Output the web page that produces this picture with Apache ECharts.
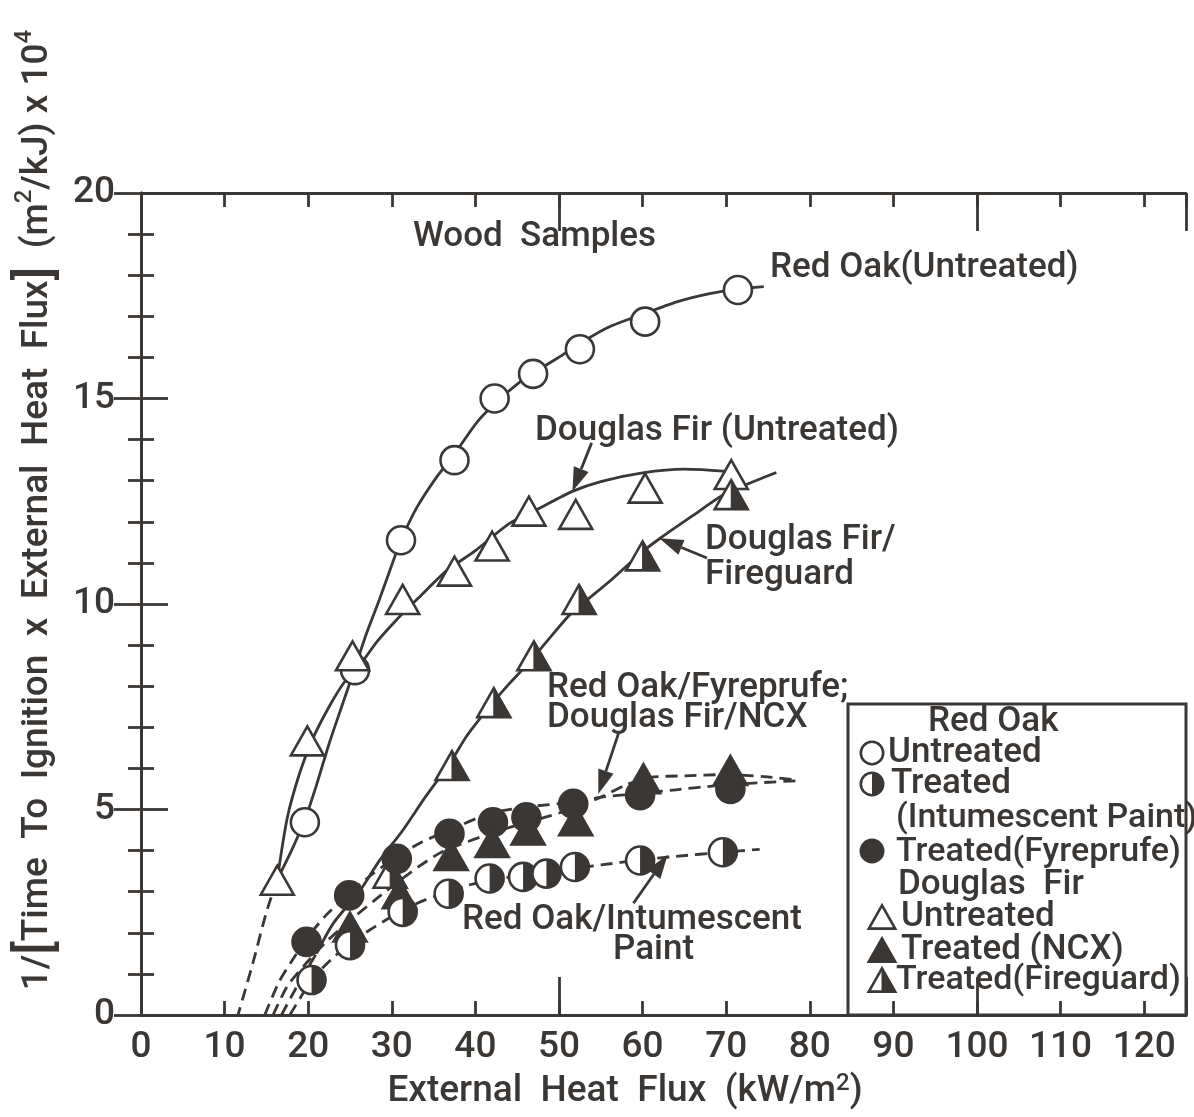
<!DOCTYPE html>
<html>
<head>
<meta charset="utf-8">
<script src="https://cdn.jsdelivr.net/npm/echarts@6/dist/echarts.min.js"></script>
<style>
  html, body { margin: 0; padding: 0; background: #ffffff; }
  #chart { width: 1194px; height: 1117px; }
</style>
</head>
<body>
<div id="chart"></div>
<script>
// ---------------- data ----------------
const xTicks = [0, 10, 20, 30, 40, 50, 60, 70, 80, 90, 100, 110, 120];
const yTicks = [0, 5, 10, 15, 20];

// measured points  [external heat flux, 1/(tig*q) x 1e4]
const redOakUntreated = [[19.6,4.69],[25.6,8.39],[31.1,11.55],[37.5,13.5],[42.3,15.0],[46.9,15.6],[52.5,16.2],[60.3,16.87],[71.4,17.64]];
const redOakIntumescent = [[20.4,0.85],[25.0,1.7],[31.3,2.51],[36.8,2.95],[41.7,3.32],[45.7,3.36],[48.5,3.44],[51.9,3.6],[59.7,3.76],[69.6,3.96]];
const redOakFyreprufe = [[19.8,1.78],[24.9,2.91],[30.6,3.8],[36.9,4.41],[42.1,4.69],[46.1,4.81],[51.7,5.14],[59.7,5.35],[70.5,5.5]];
const douglasFirUntreated = [[16.3,3.28],[19.9,6.67],[25.3,8.74],[31.3,10.11],[37.5,10.8],[42.0,11.41],[46.4,12.26],[52.0,12.18],[60.3,12.82],[70.6,13.15]];
const douglasFirNCX = [[25.0,2.14],[30.9,2.95],[37.1,3.88],[42.0,4.2],[46.3,4.5],[52.0,4.73],[60.1,5.75],[70.5,5.95]];
const douglasFirFireguard = [[29.8,3.45],[37.2,6.07],[42.2,7.6],[47.0,8.74],[52.4,10.11],[60.0,11.17],[70.6,12.66]];

// hand-drawn fit curves
const redOakUntreatedFit = [[16.3,3.3],[18,4.0],[19.6,4.75],[21,5.6],[22.5,6.6],[24,7.5],[25.6,8.45],[27,9.3],[28.5,10.1],[30,10.95],[31.1,11.55],[33,12.35],[35.4,13.1],[37.5,13.65],[40.3,14.45],[43,15.0],[46,15.5],[49.8,15.98],[53,16.4],[56.1,16.75],[60,17.05],[64.1,17.35],[68,17.55],[71.4,17.66],[74.5,17.72]];
const douglasFirUntreatedFit = [[16.3,3.3],[17.5,4.8],[19,5.9],[20.5,6.7],[22.5,7.5],[24.5,8.15],[26.3,8.55],[28.3,9.1],[30.5,9.6],[33.2,10.15],[36.5,10.8],[40,11.3],[44,11.95],[47.4,12.3],[51.6,12.74],[55,12.98],[60,13.19],[65,13.28],[70.6,13.22]];
const douglasFirUntreatedExt = [[16.3,3.3],[15,2.5],[13.3,1.2],[11.6,0]];
const fireguardFit = [[21,1.5],[23,2.23],[26.2,3.03],[28.5,3.75],[31.3,4.49],[34,5.3],[36.9,6.11],[39,6.8],[41.6,7.48],[44,8.05],[46.6,8.62],[49,9.2],[51.4,9.76],[56.1,10.56],[60.1,11.29],[62.1,11.6],[66,12.15],[69.7,12.66],[76,13.2]];
const fireguardExt = [[16.8,0],[18.8,0.75],[21,1.5]];
const fyreprufeFit = [[14.8,0],[16.5,0.8],[18,1.3],[19.8,1.85],[22,2.4],[24.9,2.95],[27.5,3.4],[30.6,3.85],[33.5,4.2],[36.9,4.5],[41.7,4.9],[46.1,5.06],[51.7,5.18],[55,5.3],[59.8,5.39],[64,5.48],[68.9,5.58],[74,5.65],[78.5,5.7]];
const ncxFit = [[15.8,0],[17.5,0.7],[19.5,1.2],[22,1.75],[25,2.3],[28,2.8],[31,3.28],[33.5,3.65],[36.1,3.98],[40.6,4.33],[44.2,4.57],[49,4.85],[52,5.05],[55,5.3],[58,5.6],[60.9,5.78],[65,5.82],[70,5.85],[74.5,5.8],[78.5,5.72]];
const intumescentFit = [[17.8,0],[19,0.4],[20.4,0.85],[22.5,1.3],[25,1.75],[28,2.15],[31.3,2.55],[34,2.8],[36.8,3.0],[39,3.15],[41.7,3.28],[45.7,3.4],[48.5,3.48],[51.9,3.57],[55,3.65],[59.7,3.77],[64,3.86],[69.6,3.96],[74,4.03]];

// annotation arrows: [from, tip] in data units
const arrowDF = [[53.9,13.92],[51.6,12.74]];
const arrowFireguard = [[67.7,11.12],[62.0,11.6]];
const arrowFyreprufe = [[57.1,6.84],[54.7,5.38]];
const arrowIntumescent = [[58.9,2.72],[63.0,3.9]];

// ---------------- styling ----------------
const INK = '#3a3735';
const FONT = 'Roboto';
const WEIGHT = 500;
const LW = 2.8;

function shape(kind, cx, cy, s) {
  const r = 14 * s, w = 16.5 * s, h = 14.5 * s, lw = 2.6;
  const tri = [[cx, cy - h], [cx + w, cy + h], [cx - w, cy + h]];
  const triR = [[cx, cy - h], [cx + w, cy + h], [cx, cy + h]];
  switch (kind) {
    case 'openCircle':
      return { type: 'circle', shape: { cx, cy, r }, style: { fill: '#fff', stroke: INK, lineWidth: lw } };
    case 'halfCircle':
      return { type: 'group', children: [
        { type: 'circle', shape: { cx, cy, r }, style: { fill: '#fff', stroke: INK, lineWidth: lw } },
        { type: 'sector', shape: { cx, cy, r0: 0, r: r, startAngle: -Math.PI / 2, endAngle: Math.PI / 2, clockwise: true }, style: { fill: INK } }
      ] };
    case 'filledCircle':
      return { type: 'circle', shape: { cx, cy, r }, style: { fill: INK, stroke: INK, lineWidth: lw } };
    case 'openTriangle':
      return { type: 'polygon', shape: { points: tri }, style: { fill: '#fff', stroke: INK, lineWidth: lw, lineJoin: 'miter' } };
    case 'filledTriangle':
      return { type: 'polygon', shape: { points: tri }, style: { fill: INK, stroke: INK, lineWidth: lw } };
    case 'halfTriangle':
      return { type: 'group', children: [
        { type: 'polygon', shape: { points: tri }, style: { fill: '#fff', stroke: INK, lineWidth: lw } },
        { type: 'polygon', shape: { points: triR }, style: { fill: INK, stroke: INK, lineWidth: 1 } }
      ] };
  }
}

function markers(name, data, kind) {
  return {
    type: 'custom', name, data, z: 5, silent: true,
    renderItem: function (params, api) {
      const p = api.coord([api.value(0), api.value(1)]);
      return shape(kind, p[0], p[1], 1);
    }
  };
}

function curve(name, data, dashed) {
  return {
    type: 'line', name, data, smooth: 0.25, showSymbol: false, symbol: 'none', silent: true, z: 2,
    lineStyle: { color: INK, width: LW, type: dashed ? [12, 7] : 'solid' }
  };
}

const tickStyle = { color: INK, width: 2.8 };
const xBase = { type: 'value', min: 0, max: 125, splitLine: { show: false }, gridIndex: 0 };

const chart = echarts.init(document.getElementById('chart'), null, { renderer: 'canvas' });

chart.setOption({
  backgroundColor: '#ffffff',
  animation: false,
  grid: { left: 141, right: 8, top: 193, bottom: 102, containLabel: false },
  xAxis: [
    Object.assign({}, xBase, {
      position: 'bottom', interval: 10,
      axisLine: { show: true, lineStyle: { color: INK, width: 3 } },
      axisTick: { show: true, inside: true, length: 14, lineStyle: tickStyle },
      axisLabel: { show: true, margin: 14, color: INK, fontSize: 37, fontFamily: FONT, fontWeight: WEIGHT,
        formatter: v => (xTicks.indexOf(v) >= 0 ? String(v) : '') }
    }),
    Object.assign({}, xBase, {
      position: 'bottom', interval: 50,
      axisLine: { show: false },
      axisTick: { show: true, inside: true, length: 38, lineStyle: tickStyle },
      axisLabel: { show: false }
    }),
    Object.assign({}, xBase, {
      position: 'top', interval: 10,
      axisLine: { show: true, lineStyle: { color: INK, width: 3 } },
      axisTick: { show: true, inside: true, length: 14, lineStyle: tickStyle },
      axisLabel: { show: false }
    }),
    Object.assign({}, xBase, {
      position: 'top', interval: 50,
      axisLine: { show: false },
      axisTick: { show: true, inside: true, length: 38, lineStyle: tickStyle },
      axisLabel: { show: false }
    })
  ],
  yAxis: [
    {
      type: 'value', min: 0, max: 20, interval: 5, position: 'left',
      splitLine: { show: false },
      axisLine: { show: true, lineStyle: { color: INK, width: 3 } },
      axisTick: { show: true, inside: true, length: 27, lineStyle: tickStyle },
      minorTick: { show: true, splitNumber: 5, length: 13, lineStyle: tickStyle },
      minorSplitLine: { show: false },
      axisLabel: { show: true, margin: 26, color: INK, fontSize: 37, fontFamily: FONT, fontWeight: WEIGHT,
        formatter: v => (yTicks.indexOf(v) >= 0 ? String(v) : '') }
    },
    {
      type: 'value', min: 0, max: 20, interval: 5, position: 'right',
      splitLine: { show: false },
      axisLine: { show: true, lineStyle: { color: INK, width: 3 } },
      axisTick: { show: true, inside: true, length: 27, lineStyle: tickStyle },
      minorTick: { show: true, splitNumber: 5, length: 13, lineStyle: tickStyle },
      minorSplitLine: { show: false },
      axisLabel: { show: false }
    }
  ],
  series: [
    curve('Red Oak untreated fit', redOakUntreatedFit, false),
    curve('Douglas Fir untreated fit', douglasFirUntreatedFit, false),
    curve('Douglas Fir untreated ext', douglasFirUntreatedExt, true),
    curve('Fireguard fit', fireguardFit, false),
    curve('Fireguard ext', fireguardExt, true),
    curve('Fyreprufe fit', fyreprufeFit, true),
    curve('NCX fit', ncxFit, true),
    curve('Intumescent fit', intumescentFit, true),
    markers('Red Oak Untreated', redOakUntreated, 'openCircle'),
    markers('Douglas Fir Untreated', douglasFirUntreated, 'openTriangle'),
    markers('Douglas Fir Fireguard', douglasFirFireguard, 'halfTriangle'),
    markers('Red Oak Fyreprufe', redOakFyreprufe, 'filledCircle'),
    markers('Douglas Fir NCX', douglasFirNCX, 'filledTriangle'),
    markers('Red Oak Intumescent', redOakIntumescent, 'halfCircle')
  ]
});

// ---------------- annotations, titles, legend box ----------------
function txt(text, x, y, opts) {
  return {
    type: 'text', x: x, y: y, z: 20, silent: true,
    style: Object.assign({ text: text, fill: INK, fontSize: 35, fontFamily: FONT, fontWeight: WEIGHT, align: 'left', verticalAlign: 'middle' }, opts || {})
  };
}

function arrow(a) {
  const p0 = chart.convertToPixel({ gridIndex: 0 }, a[0]);
  const p1 = chart.convertToPixel({ gridIndex: 0 }, a[1]);
  const dx = p1[0] - p0[0], dy = p1[1] - p0[1];
  const len = Math.sqrt(dx * dx + dy * dy);
  const ux = dx / len, uy = dy / len;
  const hl = 24, hw = 8;
  const bx = p1[0] - ux * hl, by = p1[1] - uy * hl;
  return [
    { type: 'line', z: 15, silent: true, shape: { x1: p0[0], y1: p0[1], x2: bx, y2: by }, style: { stroke: INK, lineWidth: 2.8 } },
    { type: 'polygon', z: 15, silent: true, shape: { points: [[p1[0], p1[1]], [bx - uy * hw, by + ux * hw], [bx + uy * hw, by - ux * hw]] }, style: { fill: INK } }
  ];
}

const sup = { fontSize: 24, fontFamily: FONT, fontWeight: WEIGHT, fill: INK, verticalAlign: 'top', padding: [0, 0, 16, 0] };
const big = { fontSize: 50, fontFamily: FONT, fontWeight: WEIGHT, fill: INK };

const graphics = [].concat(
  arrow(arrowDF), arrow(arrowFireguard), arrow(arrowFyreprufe), arrow(arrowIntumescent),
  [
    txt('Wood  Samples', 413, 237),
    txt('Red Oak(Untreated)', 770, 268),
    txt('Douglas Fir (Untreated)', 535, 431),
    txt('Douglas Fir/', 705, 540),
    txt('Fireguard', 705, 575),
    txt('Red Oak/Fyreprufe;', 547, 688),
    txt('Douglas Fir/NCX', 547, 718),
    txt('Red Oak/Intumescent', 462, 920),
    txt('Paint', 613, 950),
    // axis titles
    txt('External  Heat  Flux  (kW/m{s|2})', 625, 1092, { align: 'center', fontSize: 37, rich: { s: sup } }),
    Object.assign(txt('1/{b|[}Time  To  Ignition  x  External  Heat  Flux{b|]}  (m{s|2}/kJ) x 10{s|4}', 38, 510,
      { align: 'center', fontSize: 37, rich: { s: sup, b: big } }), { rotation: Math.PI / 2 }),
    // legend box
    { type: 'rect', z: 18, silent: true, shape: { x: 848, y: 704, width: 1186 - 848, height: 1015 - 704 },
      style: { fill: 'none', stroke: INK, lineWidth: 3 } },
    txt('Red Oak', 928, 722),
    Object.assign(shape('openCircle', 872, 753, 0.8), { z: 20 }),
    txt('Untreated', 888, 753),
    Object.assign(shape('halfCircle', 872, 784, 0.8), { z: 20 }),
    txt('Treated', 891, 784),
    txt('(Intumescent Paint)', 896, 818, { fontSize: 34 }),
    Object.assign(shape('filledCircle', 872, 851, 0.8), { z: 20 }),
    txt('Treated(Fyreprufe)', 896, 852, { fontSize: 34 }),
    txt('Douglas  Fir', 898, 885),
    Object.assign(shape('openTriangle', 882, 917, 0.8), { z: 20 }),
    txt('Untreated', 901, 917),
    Object.assign(shape('filledTriangle', 882, 950, 0.8), { z: 20 }),
    txt('Treated (NCX)', 901, 950),
    Object.assign(shape('halfTriangle', 882, 980, 0.8), { z: 20 }),
    txt('Treated(Fireguard)', 896, 980, { fontSize: 34 })
  ]
);

chart.setOption({ graphic: graphics });
</script>
</body>
</html>
